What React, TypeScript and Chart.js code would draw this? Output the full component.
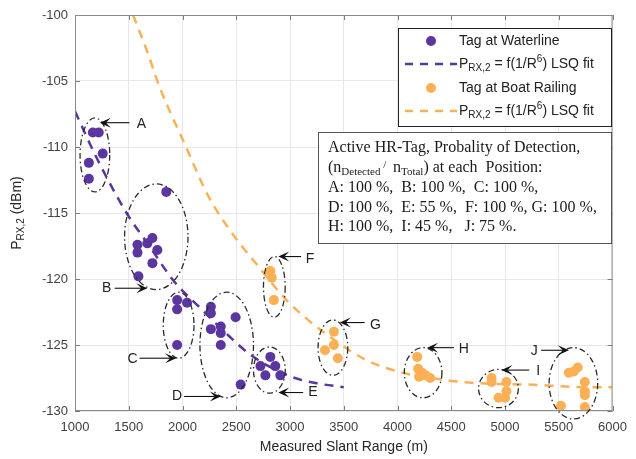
import React, { useEffect, useRef } from "react";
import { Chart, registerables } from "chart.js";

Chart.register(...registerables);

// ---------- data ----------
const waterlineX = [1166, 1221, 1258, 1129, 1129,
  1849, 1581, 1673, 1720, 1766, 1581, 1720, 1590,
  1950, 2042, 1950, 1950,
  2264, 2264, 2494, 2264, 2356, 2356, 2356, 2541,
  2817, 2725, 2863, 2771, 2910];
const waterlineY = [-108.9, -108.9, -110.5, -111.2, -112.4,
  -113.4, -117.4, -117.3, -116.9, -117.8, -118.0, -118.8, -119.8,
  -121.6, -121.8, -122.3, -125.0,
  -122.1, -122.6, -122.9, -123.8, -123.6, -124.1, -125.0, -128.0,
  -125.9, -126.6, -126.6, -127.3, -127.3];

const railingX = [2817, 2830, 2850,
  3408, 3408, 3325, 3445,
  4183, 4192, 4229, 4303, 4201, 4260,
  4875, 4875, 5013, 5013, 4940, 5000,
  5677, 5640, 5594, 5742, 5742, 5742, 5520, 5742];
const railingY = [-119.4, -119.9, -121.6,
  -124.0, -125.0, -125.4, -126.0,
  -125.9, -126.8, -127.1, -127.5, -127.4, -127.3,
  -127.5, -127.8, -127.8, -128.5, -129.0, -129.0,
  -126.7, -127.0, -127.1, -127.8, -128.5, -128.8, -129.6, -129.7];

const waterFitX = [1000, 1200, 1480, 1700, 1923, 2153, 2430, 2642, 3011, 3250, 3500];
const waterFitY = [-107.3, -110.8, -115.0, -117.6, -120.2, -122.1, -124.3, -125.8, -127.4, -127.9, -128.2];

const railFitX = [1540, 1673, 1784, 2033, 2245, 2522, 2661, 2956, 3168, 3445, 3700, 4000, 4487, 4764, 5225, 5779, 6000];
const railFitY = [-100.0, -102.8, -105.4, -110.0, -113.8, -117.2, -118.6, -121.5, -123.1, -124.8, -126.1, -127.0, -127.7, -127.9, -128.0, -128.2, -128.2];

const xTickValues = [1000, 1500, 2000, 2500, 3000, 3500, 4000, 4500, 5000, 5500, 6000];
const yTickValues = [-130, -125, -120, -115, -110, -105, -100];

const clusterLabels = ["A", "B", "C", "D", "E", "F", "G", "H", "I", "J"];

// ---------- annotation geometry (data coordinates) ----------
const ellipses = [
  { cx: 1185, cy: -110.6, rx: 138, ry: 2.8 },
  { cx: 1756, cy: -116.8, rx: 295, ry: 4.0 },
  { cx: 1964, cy: -123.5, rx: 143, ry: 2.5 },
  { cx: 2411, cy: -125.0, rx: 249, ry: 4.0 },
  { cx: 2808, cy: -126.9, rx: 148, ry: 1.75 },
  { cx: 2854, cy: -120.6, rx: 101, ry: 2.3 },
  { cx: 3399, cy: -125.2, rx: 138, ry: 2.1 },
  { cx: 4238, cy: -127.1, rx: 175, ry: 1.9 },
  { cx: 4939, cy: -128.3, rx: 185, ry: 1.45 },
  { cx: 5636, cy: -127.9, rx: 226, ry: 2.7 },
];
const arrows = [
  { tx: 1618, ty: -108.3, x0: 1507, y0: -108.16, x1: 1231, y1: -108.16 },
  { tx: 1295, ty: -120.7, x0: 1369, y0: -120.7, x1: 1673, y1: -120.7 },
  { tx: 1535, ty: -126.1, x0: 1600, y0: -126.0, x1: 1941, y1: -126.0 },
  { tx: 1950, ty: -128.9, x0: 2015, y0: -128.9, x1: 2356, y1: -128.9 },
  { tx: 3214, ty: -128.6, x0: 3122, y0: -128.6, x1: 2891, y1: -128.6 },
  { tx: 3186, ty: -118.5, x0: 3103, y0: -118.3, x1: 2891, y1: -118.3 },
  { tx: 3795, ty: -123.5, x0: 3694, y0: -123.3, x1: 3463, y1: -123.3 },
  { tx: 4616, ty: -125.3, x0: 4524, y0: -125.2, x1: 4275, y1: -125.2 },
  { tx: 5308, ty: -127.0, x0: 5225, y0: -126.9, x1: 4967, y1: -126.9 },
  { tx: 5271, ty: -125.5, x0: 5336, y0: -125.4, x1: 5594, y1: -125.4 },
];

const PURPLE = "#5c36a0";
const ORANGE = "#fcb055";
const SANS = "'Liberation Sans', Arial, sans-serif";
const SERIF = "'Liberation Serif', 'Times New Roman', serif";

type Seg = [string, number, number];

function drawRich(ctx: CanvasRenderingContext2D, x: number, y: number, segs: Seg[], family: string) {
  let cx = x;
  ctx.textBaseline = "middle";
  ctx.textAlign = "left";
  for (const [t, size, dy] of segs) {
    ctx.font = `${size}px ${family}`;
    ctx.fillText(t, cx, y + dy);
    cx += ctx.measureText(t).width;
  }
}

function richWidth(ctx: CanvasRenderingContext2D, segs: Seg[], family: string) {
  let w = 0;
  for (const [t, size] of segs) {
    ctx.font = `${size}px ${family}`;
    w += ctx.measureText(t).width;
  }
  return w;
}

const fitLabel: Seg[] = [["P", 14, 0], ["RX,2", 10, 4], [" = f(1/R", 14, 0], ["6", 10, -5], [") LSQ fit", 14, 0]];

const annotationPlugin = {
  id: "annotations",
  beforeDatasetsDraw(chart: any) {
    const { ctx, chartArea } = chart;
    const xs = chart.scales.x;
    const ys = chart.scales.y;
    ctx.save();
    ctx.strokeStyle = "#7a7a7a";
    ctx.lineWidth = 1;
    for (const v of xTickValues) {
      const px = Math.round(xs.getPixelForValue(v)) + 0.5;
      ctx.beginPath();
      ctx.moveTo(px, chartArea.bottom);
      ctx.lineTo(px, chartArea.bottom - 5);
      ctx.moveTo(px, chartArea.top);
      ctx.lineTo(px, chartArea.top + 5);
      ctx.stroke();
    }
    for (const v of yTickValues) {
      const py = Math.round(ys.getPixelForValue(v)) + 0.5;
      ctx.beginPath();
      ctx.moveTo(chartArea.left, py);
      ctx.lineTo(chartArea.left + 5, py);
      ctx.moveTo(chartArea.right, py);
      ctx.lineTo(chartArea.right - 5, py);
      ctx.stroke();
    }
    ctx.restore();
  },
  afterDatasetsDraw(chart: any) {
    const { ctx, chartArea } = chart;
    const xs = chart.scales.x;
    const ys = chart.scales.y;
    const X = (v: number) => xs.getPixelForValue(v);
    const Y = (v: number) => ys.getPixelForValue(v);
    ctx.save();

    ctx.strokeStyle = "#8a8a8a";
    ctx.lineWidth = 1;
    ctx.strokeRect(chartArea.left + 0.5, chartArea.top + 0.5, chartArea.right - chartArea.left - 1, chartArea.bottom - chartArea.top - 1);

    // ellipses
    ctx.strokeStyle = "#2a2a2a";
    ctx.lineWidth = 1.3;
    ctx.setLineDash([6, 3, 1.5, 3]);
    for (const e of ellipses) {
      const cx = X(e.cx);
      const cy = Y(e.cy);
      const rx = Math.abs(X(e.cx + e.rx) - cx);
      const ry = Math.abs(Y(e.cy + e.ry) - cy);
      ctx.beginPath();
      ctx.ellipse(cx, cy, rx, ry, 0, 0, Math.PI * 2);
      ctx.stroke();
    }
    ctx.setLineDash([]);

    // arrows + letters
    ctx.strokeStyle = "#111";
    ctx.fillStyle = "#111";
    ctx.lineWidth = 1.1;
    arrows.forEach((a, i) => {
      const x0 = X(a.x0), y0 = Y(a.y0), x1 = X(a.x1), y1 = Y(a.y1);
      const ang = Math.atan2(y1 - y0, x1 - x0);
      const L = 11, W = 5;
      const bx = x1 - L * Math.cos(ang), by = y1 - L * Math.sin(ang);
      ctx.beginPath();
      ctx.moveTo(x0, y0);
      ctx.lineTo(bx + 5 * Math.cos(ang), by + 5 * Math.sin(ang));
      ctx.stroke();
      const nx = -Math.sin(ang), ny = Math.cos(ang);
      const mx = x1 - L * 0.55 * Math.cos(ang), my = y1 - L * 0.55 * Math.sin(ang);
      ctx.beginPath();
      ctx.moveTo(x1, y1);
      ctx.lineTo(bx + nx * W, by + ny * W);
      ctx.lineTo(mx, my);
      ctx.lineTo(bx - nx * W, by - ny * W);
      ctx.closePath();
      ctx.fill();
      ctx.font = `14px ${SANS}`;
      ctx.textAlign = "center";
      ctx.textBaseline = "middle";
      ctx.fillStyle = "#222";
      ctx.fillText(clusterLabels[i], X(a.tx), Y(a.ty));
      ctx.fillStyle = "#111";
    });

    // legend box
    ctx.fillStyle = "#fff";
    ctx.fillRect(398, 28, 213, 98);
    ctx.strokeStyle = "#222";
    ctx.lineWidth = 1;
    ctx.strokeRect(398.5, 28.5, 213, 98);
    const rows = [41, 64, 88, 111];
    ctx.fillStyle = PURPLE;
    ctx.beginPath();
    ctx.arc(431, rows[0], 5, 0, Math.PI * 2);
    ctx.fill();
    ctx.fillStyle = "#222";
    drawRich(ctx, 459, rows[0], [["Tag at Waterline", 14, 0]], SANS);
    ctx.strokeStyle = PURPLE;
    ctx.lineWidth = 2.5;
    ctx.setLineDash([8, 7]);
    ctx.beginPath();
    ctx.moveTo(405, rows[1]);
    ctx.lineTo(457, rows[1]);
    ctx.stroke();
    ctx.setLineDash([]);
    ctx.fillStyle = "#222";
    drawRich(ctx, 459, rows[1], fitLabel, SANS);
    ctx.fillStyle = ORANGE;
    ctx.beginPath();
    ctx.arc(431, rows[2], 5, 0, Math.PI * 2);
    ctx.fill();
    ctx.fillStyle = "#222";
    drawRich(ctx, 459, rows[2], [["Tag at Boat Railing", 14, 0]], SANS);
    ctx.strokeStyle = ORANGE;
    ctx.lineWidth = 2.5;
    ctx.setLineDash([8, 7]);
    ctx.beginPath();
    ctx.moveTo(405, rows[3]);
    ctx.lineTo(457, rows[3]);
    ctx.stroke();
    ctx.setLineDash([]);
    ctx.fillStyle = "#222";
    drawRich(ctx, 459, rows[3], fitLabel, SANS);

    // detection probability box
    ctx.fillStyle = "#fff";
    ctx.fillRect(318, 132, 293, 111);
    ctx.strokeStyle = "#555";
    ctx.lineWidth = 1;
    ctx.strokeRect(318.5, 132.5, 293, 111);
    ctx.fillStyle = "#1a1a1a";
    const lines: Seg[][] = [
      [["Active HR-Tag, Probality of Detection,", 16, 0]],
      [["(n", 16, 0], ["Detected", 11, 4], [" / ", 11, -3], [" n", 16, 0], ["Total", 11, 4], [") at each  Position:", 16, 0]],
      [["A: 100 %,  B: 100 %,  C: 100 %,", 16, 0]],
      [["D: 100 %,  E: 55 %,  F: 100 %, G: 100 %,", 16, 0]],
      [["H: 100 %,  I: 45 %,   J: 75 %.", 16, 0]],
    ];
    const ly = [148, 168, 188, 208, 227];
    lines.forEach((segs, i) => drawRich(ctx, 328, ly[i], segs, SERIF));

    // axis titles
    ctx.fillStyle = "#262626";
    ctx.font = `14px ${SANS}`;
    ctx.textAlign = "center";
    ctx.textBaseline = "middle";
    ctx.fillText("Measured Slant Range (m)", (chartArea.left + chartArea.right) / 2, 447);

    const ySegs: Seg[] = [["P", 14, 0], ["RX,2", 10, 4], [" (dBm)", 14, 0]];
    const w = richWidth(ctx, ySegs, SANS);
    ctx.save();
    ctx.translate(17, (chartArea.top + chartArea.bottom) / 2);
    ctx.rotate(-Math.PI / 2);
    drawRich(ctx, -w / 2, 0, ySegs, SANS);
    ctx.restore();

    ctx.restore();
  },
};

export default function App() {
  const ref = useRef<HTMLCanvasElement>(null);
  useEffect(() => {
    document.body.style.margin = "0";
    const toXY = (xs: number[], ys: number[]) => xs.map((x, i) => ({ x, y: ys[i] }));
    const chart = new Chart(ref.current!, {
      type: "scatter",
      data: {
        datasets: [
          {
            label: "Tag at Waterline",
            data: toXY(waterlineX, waterlineY),
            backgroundColor: PURPLE,
            borderColor: PURPLE,
            pointRadius: 5,
            pointBorderWidth: 0,
            order: 0,
          },
          {
            label: "Waterline fit",
            data: toXY(waterFitX, waterFitY),
            showLine: true,
            borderColor: PURPLE,
            borderWidth: 2.5,
            borderDash: [9, 7],
            pointRadius: 0,
            cubicInterpolationMode: "monotone",
            order: 1,
          } as any,
          {
            label: "Tag at Boat Railing",
            data: toXY(railingX, railingY),
            backgroundColor: ORANGE,
            borderColor: ORANGE,
            pointRadius: 5,
            pointBorderWidth: 0,
            order: 0,
          },
          {
            label: "Railing fit",
            data: toXY(railFitX, railFitY),
            showLine: true,
            borderColor: ORANGE,
            borderWidth: 2.5,
            borderDash: [9, 7],
            pointRadius: 0,
            cubicInterpolationMode: "monotone",
            order: 1,
          } as any,
        ],
      },
      options: {
        responsive: false,
        animation: false,
        layout: { padding: { top: 15, right: 19, left: 0, bottom: 0 } },
        plugins: { legend: { display: false }, tooltip: { enabled: false } },
        scales: {
          x: {
            type: "linear",
            min: 1000,
            max: 6000,
            afterBuildTicks: (s: any) => { s.ticks = xTickValues.map((v) => ({ value: v })); },
            afterFit: (s: any) => { s.height = 48; },
            ticks: { color: "#404040", font: { family: SANS, size: 13 }, padding: 9, maxRotation: 0, autoSkip: false, callback: (v: any) => String(v) },
            grid: { color: "#e8e8e8", drawTicks: false },
            border: { display: false },
          },
          y: {
            type: "linear",
            min: -130,
            max: -100,
            afterBuildTicks: (s: any) => { s.ticks = yTickValues.map((v) => ({ value: v })); },
            afterFit: (s: any) => { s.width = 75; },
            ticks: { color: "#404040", font: { family: SANS, size: 13 }, padding: 7, autoSkip: false, callback: (v: any) => String(v) },
            grid: { color: "#e8e8e8", drawTicks: false },
            border: { display: false },
          },
        },
      },
      plugins: [annotationPlugin],
    });
    return () => chart.destroy();
  }, []);
  return (
    <div style={{ width: 636, height: 459 }}>
      <canvas ref={ref} width={636} height={459} style={{ display: "block" }} />
    </div>
  );
}
